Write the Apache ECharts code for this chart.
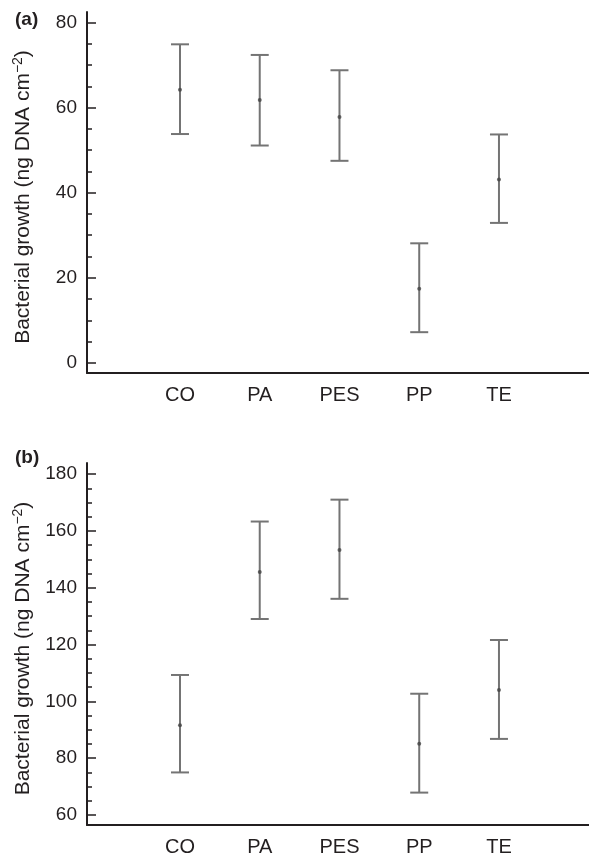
<!DOCTYPE html>
<html>
<head>
<meta charset="utf-8">
<script src="https://cdn.jsdelivr.net/npm/echarts@6/dist/echarts.min.js"></script>
<style>
  html, body { margin: 0; padding: 0; background: #fff; }
  #main { width: 589px; height: 854px; }
</style>
</head>
<body>
<div id="main"></div>
<script>
// categories along x
var categories = ['CO', 'PA', 'PES', 'PP', 'TE'];
var catPos = [1, 2, 3, 4, 5];

// panel (a): mean and error bar ends
var meanA = [64.2, 61.8, 57.8, 17.4, 43.1];
var lowA  = [53.8, 51.1, 47.5, 7.2, 32.9];
var highA = [74.9, 72.4, 68.8, 28.1, 53.7];

// panel (b)
var meanB = [91.6, 145.5, 153.3, 85.1, 104.0];
var lowB  = [75.0, 129.0, 136.1, 67.9, 86.8];
var highB = [109.3, 163.3, 171.0, 102.7, 121.6];

// tick labels
var yTicksA = [0, 20, 40, 60, 80];
var yTicksB = [60, 80, 100, 120, 140, 160, 180];

var FONT = 'Liberation Sans, Arial, sans-serif';
var INK = '#231f20';
var BAR = '#747474';

function minorTicks(from, to) {
    var arr = [];
    for (var v = from; v <= to; v += 5) arr.push(v);
    return arr;
}

function barData(low, high) {
    var d = [];
    for (var i = 0; i < categories.length; i++) d.push([catPos[i], low[i], high[i]]);
    return d;
}
function meanData(mean) {
    var d = [];
    for (var i = 0; i < categories.length; i++) d.push([catPos[i], mean[i]]);
    return d;
}

function renderBar(params, api) {
    var x = api.value(0);
    var lo = api.coord([x, api.value(1)]);
    var hi = api.coord([x, api.value(2)]);
    var hw = 9;
    var st = { stroke: BAR, lineWidth: 2 };
    return {
        type: 'group',
        children: [
            { type: 'line', shape: { x1: lo[0], y1: lo[1], x2: hi[0], y2: hi[1] }, style: st },
            { type: 'line', shape: { x1: lo[0] - hw, y1: lo[1], x2: lo[0] + hw, y2: lo[1] }, style: st },
            { type: 'line', shape: { x1: hi[0] - hw, y1: hi[1], x2: hi[0] + hw, y2: hi[1] }, style: st }
        ]
    };
}

function xAxisFor(gi) {
    return {
        type: 'value', gridIndex: gi, min: -0.166, max: 6.129,
        splitLine: { show: false },
        axisLine: { show: true, onZero: false, lineStyle: { color: INK, width: 2 } },
        axisTick: { show: false },
        axisLabel: {
            customValues: catPos, margin: 12,
            fontFamily: FONT, fontSize: 20, color: INK,
            formatter: function (v) { return categories[Math.round(v) - 1] || ''; }
        }
    };
}

function yAxisMain(gi, min, max, ticks) {
    return {
        type: 'value', gridIndex: gi, min: min, max: max, position: 'left', offset: 0,
        splitLine: { show: false },
        axisLine: { show: true, onZero: false, lineStyle: { color: INK, width: 2 } },
        axisTick: { show: true, inside: true, length: 9, customValues: ticks, lineStyle: { color: INK, width: 1.5 } },
        axisLabel: { customValues: ticks, margin: 10, fontFamily: FONT, fontSize: 19, color: INK },
        name: 'Bacterial growth (ng DNA cm{sup|\u22122})',
        nameLocation: 'middle', nameRotate: 90, nameGap: 52,
        nameTextStyle: {
            fontFamily: FONT, fontSize: 21, color: INK, padding: [0, 9, 0, 0],
            rich: { sup: { fontFamily: FONT, fontSize: 14, color: INK, verticalAlign: 'bottom', padding: [0, 0, 10, 0] } }
        }
    };
}

function yAxisMinor(gi, min, max, ticks) {
    return {
        type: 'value', gridIndex: gi, min: min, max: max, position: 'left', offset: 0,
        splitLine: { show: false },
        axisLine: { show: false, onZero: false },
        axisTick: { show: true, inside: true, length: 5, customValues: ticks, lineStyle: { color: INK, width: 1.5 } },
        axisLabel: { show: false }
    };
}

var myChart = echarts.init(document.getElementById('main'), null, { renderer: 'canvas' });

var option = {
    animation: false,
    backgroundColor: '#fff',
    title: [
        { text: '(a)', left: 10, top: 5, textStyle: { fontFamily: FONT, fontSize: 19, fontWeight: 'bold', color: INK } },
        { text: '(b)', left: 10, top: 443, textStyle: { fontFamily: FONT, fontSize: 19, fontWeight: 'bold', color: INK } }
    ],
    grid: [
        { left: 87, right: 0, top: 12, height: 361, outerBoundsMode: 'none', containLabel: false },
        { left: 87, right: 0, top: 463, height: 362, outerBoundsMode: 'none', containLabel: false }
    ],
    xAxis: [xAxisFor(0), xAxisFor(1)],
    yAxis: [
        yAxisMain(0, -2.4, 82.5, yTicksA),
        yAxisMinor(0, -2.4, 82.5, minorTicks(0, 80)),
        yAxisMain(1, 56.5, 183.9, yTicksB),
        yAxisMinor(1, 56.5, 183.9, minorTicks(60, 180))
    ],
    series: [
        { type: 'custom', xAxisIndex: 0, yAxisIndex: 0, renderItem: renderBar, data: barData(lowA, highA), encode: { x: 0, y: [1, 2] } },
        { type: 'scatter', xAxisIndex: 0, yAxisIndex: 0, symbolSize: 4, itemStyle: { color: '#444' }, data: meanData(meanA) },
        { type: 'custom', xAxisIndex: 1, yAxisIndex: 2, renderItem: renderBar, data: barData(lowB, highB), encode: { x: 0, y: [1, 2] } },
        { type: 'scatter', xAxisIndex: 1, yAxisIndex: 2, symbolSize: 4, itemStyle: { color: '#444' }, data: meanData(meanB) }
    ]
};

myChart.setOption(option);
</script>
</body>
</html>
